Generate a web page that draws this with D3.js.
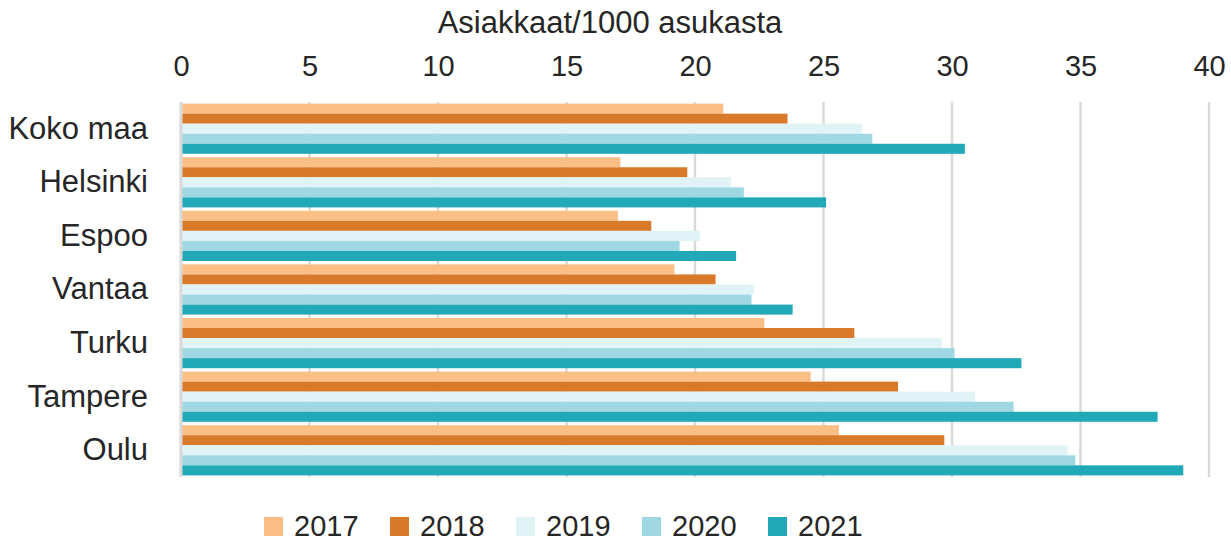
<!DOCTYPE html>
<html>
<head>
<meta charset="utf-8">
<script src="https://cdn.jsdelivr.net/npm/d3@7"></script>
<style>
  body { margin: 0; background: #fff; }
  text { font-family: "Liberation Sans", Arial, sans-serif; fill: #262626; }
</style>
</head>
<body>
<svg id="chart" width="1231" height="542"></svg>
<script>

// data
const cities = ["Koko maa", "Helsinki", "Espoo", "Vantaa", "Turku", "Tampere", "Oulu"]
const years = ["2017", "2018", "2019", "2020", "2021"]
const colors = ["#fbbe85", "#d97a2a", "#e0f3f7", "#9fd8e3", "#22a9b7"]

const v2017 = [21.1, 17.1, 17.0, 19.2, 22.7, 24.5, 25.6]
const v2018 = [23.6, 19.7, 18.3, 20.8, 26.2, 27.9, 29.7]
const v2019 = [26.5, 21.4, 20.2, 22.3, 29.6, 30.9, 34.5]
const v2020 = [26.9, 21.9, 19.4, 22.2, 30.1, 32.4, 34.8]
const v2021 = [30.5, 25.1, 21.6, 23.8, 32.7, 38.0, 39.0]
const series = [v2017, v2018, v2019, v2020, v2021]

const xTicks = [0, 5, 10, 15, 20, 25, 30, 35, 40]
const axisTitle = "Asiakkaat/1000 asukasta"

const svg = d3.select("#chart")

const plotLeft = 181
const plotRight = 1209
const plotTop = 102
const plotBottom = 477

const x = d3.scaleLinear()
            .domain([0, 40])
            .range([plotLeft, plotRight])

const y = d3.scaleBand()
            .domain(cities)
            .range([plotTop, plotBottom])
            .paddingInner(0.063)
            .paddingOuter(0.03)

const yInner = d3.scaleBand()
                 .domain(years)
                 .range([0, y.bandwidth()])

// gridlines
svg.append("g")
   .selectAll("line")
   .data(xTicks)
   .enter()
   .append("line")
   .attr("x1", d => x(d))
   .attr("x2", d => x(d))
   .attr("y1", plotTop)
   .attr("y2", plotBottom)
   .attr("stroke", "#d9d9d9")
   .attr("stroke-width", 2.5)

// top axis labels
svg.append("g")
   .attr("transform", "translate(0," + 76 + ")")
   .call(d3.axisTop(x).tickValues(xTicks).tickSize(0).tickPadding(0))
   .call(g => g.select(".domain").remove())
   .selectAll("text")
   .attr("font-size", 29)
   .attr("font-family", "Liberation Sans, Arial, sans-serif")
   .attr("fill", "#262626")

svg.append("text")
   .attr("x", 610)
   .attr("y", 33)
   .attr("text-anchor", "middle")
   .attr("font-size", 31)
   .text(axisTitle)

// bars
const groups = svg.append("g")
                  .selectAll("g")
                  .data(cities)
                  .enter()
                  .append("g")
                  .attr("transform", d => "translate(0," + y(d) + ")")

groups.selectAll("rect")
      .data((c, i) => years.map((yr, k) => ({ year: yr, value: series[k][i], k: k })))
      .enter()
      .append("rect")
      .attr("x", x(0))
      .attr("y", d => yInner(d.year))
      .attr("width", d => x(d.value) - x(0))
      .attr("height", yInner.bandwidth())
      .attr("fill", d => colors[d.k])

// left axis line
svg.append("line")
   .attr("x1", x(0))
   .attr("x2", x(0))
   .attr("y1", plotTop)
   .attr("y2", plotBottom)
   .attr("stroke", "#d9d9d9")
   .attr("stroke-width", 3)

// category labels
svg.append("g")
   .attr("transform", "translate(" + 148 + ",0)")
   .call(d3.axisLeft(y).tickSize(0).tickPadding(0))
   .call(g => g.select(".domain").remove())
   .selectAll("text")
   .attr("font-size", 31)
   .attr("font-family", "Liberation Sans, Arial, sans-serif")
   .attr("fill", "#262626")

// legend
const legend = svg.append("g")
                  .attr("transform", "translate(" + 264 + "," + 517 + ")")

const legendItem = legend.selectAll("g")
                         .data(years)
                         .enter()
                         .append("g")
                         .attr("transform", (d, i) => "translate(" + (i * 126) + ",0)")

legendItem.append("rect")
          .attr("width", 19)
          .attr("height", 19)
          .attr("fill", (d, i) => colors[i])

legendItem.append("text")
          .attr("x", 30)
          .attr("y", 19)
          .attr("font-size", 29)
          .text(d => d)

</script>
</body>
</html>
